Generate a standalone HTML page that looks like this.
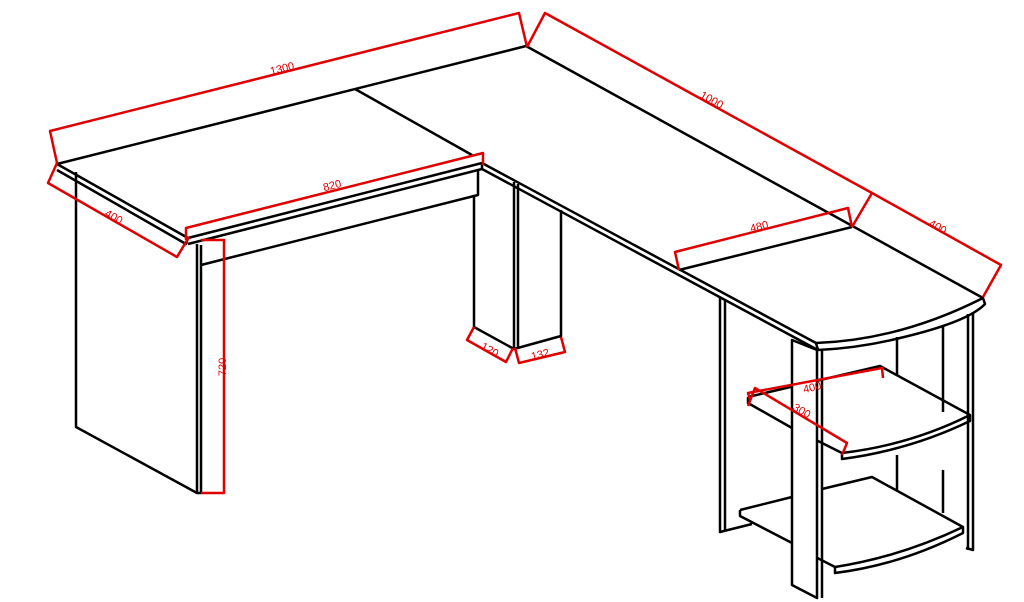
<!DOCTYPE html>
<html><head><style>
html,body{margin:0;padding:0;background:#fff;}
svg{display:block}
text{font-family:"Liberation Sans",sans-serif;font-size:11px;fill:#e00000;}
</style></head><body>
<svg width="1024" height="602" viewBox="0 0 1024 602" xmlns="http://www.w3.org/2000/svg">
<g fill="none" stroke="#000" stroke-width="2.5" stroke-linejoin="round">
<!-- top surface -->
<path d="M57,164 L526,46 L983,298"/>
<path d="M355,89 L472,155"/>
<path d="M57,164 L188,238 M57,170 L186,244 L188,238"/>
<path d="M188,238 L482,163 M188,244 L482,169 L482,163"/>
<path d="M482,163 L816,343 M482,169 L816,349"/>
<path d="M679,270 L852,227"/>
<path d="M816,343 Q900,340 983,298 L985,304 Q968,322 900,338 Q860,348 818,350 L816,343"/>
<!-- modesty panel -->
<path d="M201,265 L478,195 L478,171"/>
<!-- left leg -->
<path d="M76,172 L76,427 L197,493 L197,244 M201,245 L201,493 L197,493"/>
<!-- middle legs -->
<path d="M474,196 L474,327 L514,349 L561,336 L561,210"/>
<path d="M514,182 L514,349 M518,184 L518,348"/>
<!-- shelf unit -->
<path d="M720,298 L720,532 L752,524 M725,300 L725,531"/>
<path d="M968,314 L968,550 M973,312 L973,550 L966,548"/>
<path d="M897,337 L897,375 M897,455 L897,490 M943,325 L943,412 M943,470 L943,513"/>
<!-- shelf 1 -->
<path d="M748,397 L880,366 L970,415 Q910,445 842,453 L792,428 M748,397 L748,403 L792,428 M842,453 L842,459 Q910,450 970,421 L970,415"/>
<!-- shelf 2 -->
<path d="M740,510 L792,497 M822,489 L872,477 L963,527 Q900,557 835,567 L792,545 M740,510 L740,516 L792,543 M835,567 L835,573 Q900,565 963,533 L963,527"/>
<!-- front leg over shelves -->
<path d="M792,340 L817,350 L817,598 L792,585 Z" fill="#fff"/>
<path d="M822,351 L822,598"/>
</g>
<g fill="none" stroke="#e00000" stroke-width="2.5" stroke-linejoin="round">
<path d="M57,163 L50,131 L519,13 L527,47"/>
<path d="M527,47 L545,13 L872,193 L852,227"/>
<path d="M872,193 L1001,265 L983,297"/>
<path d="M57,163 L48,183 L177,257 L189,237"/>
<path d="M186,240 L186,228 L483,153 L483,165"/>
<path d="M679,270 L675,252 L848,208 L852,227"/>
<path d="M201,240 L224,240 L224,493 L201,493"/>
<path d="M474,327 L467,340 L506,362 L513,348"/>
<path d="M515,348 L519,363 L565,352 L561,337"/>
<path d="M750,400 L748,393 L882,368 L883,378"/>
<path d="M748,406 L755,388 L847,443 L842,455"/>
</g>
<text transform="translate(283,72) rotate(-14)" text-anchor="middle">1300</text>
<text transform="translate(710,103) rotate(29)" text-anchor="middle">1000</text>
<text transform="translate(333,189) rotate(-14)" text-anchor="middle">820</text>
<text transform="translate(112,220) rotate(30)" text-anchor="middle">400</text>
<text transform="translate(760,230) rotate(-14)" text-anchor="middle">480</text>
<text transform="translate(936,230) rotate(29)" text-anchor="middle">400</text>
<text transform="translate(488,353) rotate(29)" text-anchor="middle">120</text>
<text transform="translate(541,358) rotate(-14)" text-anchor="middle">132</text>
<text transform="translate(226,367) rotate(-90)" text-anchor="middle">720</text>
<text transform="translate(813,391) rotate(-14)" text-anchor="middle">400</text>
<text transform="translate(800,414) rotate(30)" text-anchor="middle">300</text>
</svg>
</body></html>
